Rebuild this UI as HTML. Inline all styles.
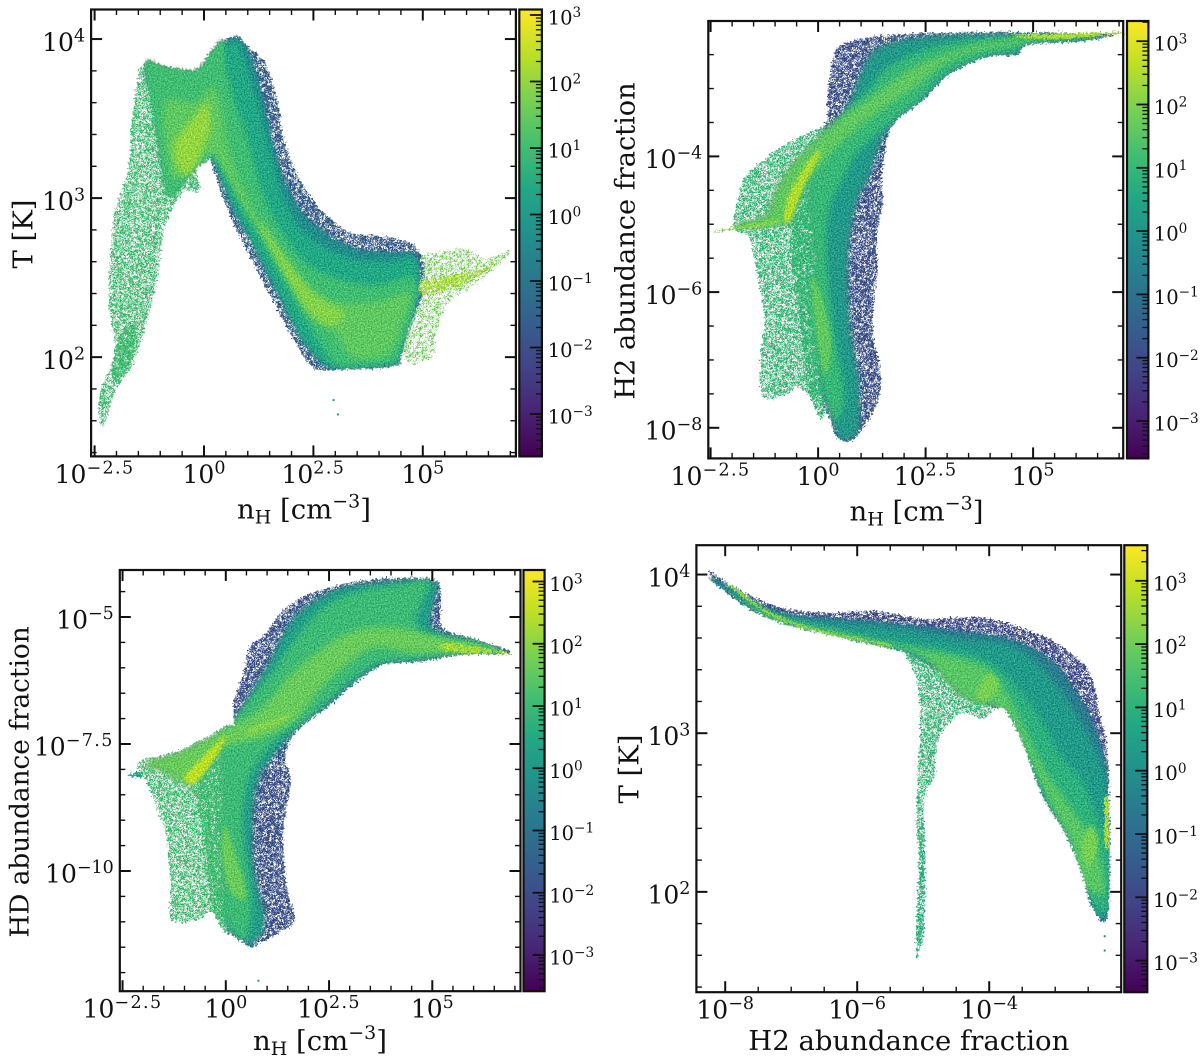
<!DOCTYPE html>
<html lang="en">
<head>
<meta charset="utf-8">
<title>Phase diagrams</title>
<style>
html,body{margin:0;padding:0;background:#fff;}
svg{display:block;}
text{font-family:"DejaVu Serif","Liberation Serif",serif;fill:#111;}
</style>
</head>
<body>
<svg id="figure" xmlns="http://www.w3.org/2000/svg" width="1200" height="1061" viewBox="0 0 1200 1061">
<defs>
<filter id="thin" x="-5%" y="-5%" width="110%" height="110%" color-interpolation-filters="sRGB">
<feTurbulence type="fractalNoise" baseFrequency="0.5" numOctaves="1" seed="9" result="n"/>
<feColorMatrix in="n" type="matrix" values="0 0 0 0 0  0 0 0 0 0  0 0 0 0 0  22 0 0 0 -11.3" result="m"/>
<feComposite in="SourceGraphic" in2="m" operator="in"/>
</filter>
<filter id="speckle" x="-5%" y="-5%" width="110%" height="110%" color-interpolation-filters="sRGB">
<feTurbulence type="fractalNoise" baseFrequency="0.5" numOctaves="1" seed="7" result="n"/>
<feColorMatrix in="n" type="matrix" values="0 0 0 0 0  0 0 0 0 0  0 0 0 0 0  22 0 0 0 -9.9" result="m"/>
<feComposite in="SourceGraphic" in2="m" operator="in"/>
</filter>
<filter id="edge" x="-5%" y="-5%" width="110%" height="110%" color-interpolation-filters="sRGB">
<feTurbulence type="fractalNoise" baseFrequency="0.5" numOctaves="1" seed="3" result="n"/>
<feColorMatrix in="n" type="matrix" values="0 0 0 0 0  0 0 0 0 0  0 0 0 0 0  22 0 0 0 -9.2" result="m"/>
<feComposite in="SourceGraphic" in2="m" operator="in"/>
</filter>
<filter id="soft" x="-10%" y="-10%" width="120%" height="120%">
<feGaussianBlur stdDeviation="3"/>
</filter>
<filter id="fine" x="-20%" y="-20%" width="140%" height="140%">
<feGaussianBlur stdDeviation="1.2"/>
</filter>
<filter id="rough" x="-3%" y="-3%" width="106%" height="106%" color-interpolation-filters="sRGB">
<feTurbulence type="fractalNoise" baseFrequency="0.5" numOctaves="1" seed="11" result="t"/>
<feDisplacementMap in="SourceGraphic" in2="t" scale="8" xChannelSelector="R" yChannelSelector="G" result="d"/>
<feTurbulence type="fractalNoise" baseFrequency="0.7" numOctaves="1" seed="5" result="g0"/>
<feColorMatrix in="g0" type="matrix" values="1 0 0 0 0  1 0 0 0 0  1 0 0 0 0  0 0 0 0 1" result="g"/>
<feComposite in="d" in2="g" operator="arithmetic" k1="0" k2="1" k3="0.5" k4="-0.25" result="a"/>
<feComposite in="a" in2="d" operator="in"/>
</filter>
</defs>
</svg>
<script>
// ---------- Panel 1: temperature vs density (log10 values) ----------
const tempDensityWing=[[-2.32,1.56],[-2.39,1.76],[-2.04,2.03],[-2.17,2.31],[-2.14,2.63],[-2.04,2.91],[-1.73,3.18],[-1.64,3.50],[-1.38,3.84],[-0.73,3.61],[-0.11,3.09],[-0.46,3.04],[-0.73,2.93],[-0.94,2.78],[-1.08,2.48],[-1.34,2.20],[-1.64,1.95],[-2.04,1.78]];
const tempDensityWingCore=[[-2.1,1.9],[-1.9,2.15],[-1.55,2.2],[-1.65,2.0],[-1.95,1.85]];
const tempDensityTailSparse=[[4.7,2.6],[5.3,2.66],[6.0,2.68],[6.4,2.62],[7,2.66],[6.2,2.46],[5.6,2.35],[5.3,2.15],[5.2,2.0],[4.6,1.98],[4.7,2.3]];
const tempDensityEdge=[[-1.3,3.84],[-0.9,3.81],[-0.2,3.79],[0.15,3.90],[0.41,3.98],[0.76,4.02],[1.02,3.95],[1.42,3.84],[1.68,3.61],[1.81,3.39],[2.07,3.18],[2.42,3.01],[2.86,2.88],[3.38,2.78],[4.08,2.76],[4.78,2.71],[5.0,2.6],[5.0,2.4],[4.7,2.2],[4.52,2.01],[4.34,1.94],[3.03,1.92],[2.51,1.93],[2.07,2.10],[1.55,2.37],[0.94,2.69],[0.50,2.95],[0.24,3.16],[0.10,3.26],[-0.2,3.20],[-0.55,3.08],[-0.81,3.04],[-0.99,3.29],[-1.16,3.61]];
const tempDensityMid=[[0.76,4.01],[1.1,3.88],[1.37,3.62],[1.6,3.33],[1.9,3.08],[2.3,2.9],[2.8,2.78],[3.5,2.68],[4.3,2.66],[4.85,2.64],[4.9,2.4],[4.6,2.15],[4.5,2.01],[4.3,1.95],[3.03,1.93],[2.65,1.98],[2.2,2.13],[1.7,2.4],[1.1,2.72],[0.65,2.95],[0.3,3.18],[0.1,3.26],[-0.2,3.2],[-0.55,3.08],[-0.81,3.04],[-0.99,3.29],[-1.16,3.61],[-1.3,3.83],[-0.2,3.78],[0.15,3.89],[0.41,3.97]];
const tempDensityTeal=[[0.76,3.98],[0.95,3.85],[1.2,3.62],[1.5,3.3],[1.75,3.05],[2.1,2.85],[2.6,2.72],[3.4,2.62],[4.2,2.6],[4.8,2.62],[4.9,2.4],[4.6,2.15],[4.5,2.01],[4.3,1.95],[3.03,1.93],[2.65,1.98],[2.2,2.13],[1.7,2.4],[1.1,2.72],[0.65,2.95],[0.3,3.18],[0.1,3.26],[-0.2,3.2],[-0.55,3.08],[-0.81,3.04],[-0.99,3.29],[-1.16,3.61],[-1.3,3.83],[-0.2,3.78],[0.15,3.89],[0.41,3.95]];
const tempDensityLeftDense=[[-1.34,3.86],[-0.9,3.83],[-0.2,3.81],[0.15,3.92],[0.45,3.98],[0.4,3.5],[0.2,3.28],[-0.2,3.18],[-0.55,3.06],[-0.85,3.02],[-1.04,3.29],[-1.21,3.61]];
const tempDensityGreen=[[-1.1,3.75],[-0.2,3.72],[0.1,3.85],[0.4,3.85],[0.7,3.6],[1.0,3.35],[1.3,3.05],[1.7,2.82],[2.3,2.6],[3.0,2.5],[3.9,2.45],[4.8,2.5],[4.8,2.3],[4.5,2.05],[4.3,1.97],[3.1,1.95],[2.75,2.05],[2.3,2.25],[1.8,2.5],[1.3,2.75],[0.8,3.0],[0.4,3.2],[0.1,3.28],[-0.2,3.22],[-0.6,3.1],[-0.8,3.1],[-0.95,3.35],[-1.05,3.6]];
const tempDensityLight=[[-0.9,3.6],[-0.2,3.6],[0.2,3.7],[0.4,3.55],[0.55,3.3],[1.0,3.0],[1.5,2.75],[2.2,2.5],[3.0,2.35],[4.0,2.35],[4.7,2.4],[4.5,2.2],[4.2,2.02],[3.4,2.0],[3.0,2.15],[2.5,2.25],[2.0,2.45],[1.5,2.7],[1.0,2.9],[0.5,3.15],[0.2,3.28],[-0.2,3.22],[-0.6,3.12],[-0.8,3.2]];
const tempDensityPeakBlob=[[-0.7,3.32],[-0.5,3.42],[-0.25,3.5],[0.05,3.6],[0.15,3.45],[-0.05,3.3],[-0.15,3.22],[-0.4,3.14],[-0.6,3.2]];
const tempDensityPeakRidge=[[1.3,2.85],[1.8,2.65],[2.5,2.4],[3.2,2.28],[2.9,2.2],[2.4,2.28],[1.9,2.5],[1.4,2.75]];
const tempDensityTailCore=[[5.0,2.48],[5.8,2.52],[6.4,2.56],[6.9,2.63],[6.2,2.5],[5.6,2.43],[5.0,2.4]];
const tempDensityStray=[[2.96,1.73],[3.06,1.64]];
const tempDensityLayers=[
 {name:'sparse-wing',logCount:1.0,mode:'speckle',outline:tempDensityWing},
 {name:'wing-core',logCount:1.0,mode:'edge',outline:tempDensityWingCore},
 {name:'sparse-tail',logCount:1.6,mode:'thin',outline:tempDensityTailSparse},
 {name:'edge-band',logCount:-1.7,mode:'edge',outline:tempDensityEdge},
 {name:'mid-band',logCount:-0.4,mode:'fine',outline:tempDensityMid},
 {name:'teal-band',logCount:0.4,mode:'soft',outline:tempDensityTeal},
 {name:'left-dense',logCount:1.0,mode:'fine',outline:tempDensityLeftDense},
 {name:'green-band',logCount:1.0,mode:'soft',outline:tempDensityGreen},
 {name:'light-band',logCount:1.4,mode:'soft',outline:tempDensityLight},
 {name:'peak-blob',logCount:2.0,mode:'soft',outline:tempDensityPeakBlob},
 {name:'peak-ridge',logCount:1.85,mode:'soft',outline:tempDensityPeakRidge},
 {name:'tail-core',logCount:2.2,mode:'edge',outline:tempDensityTailCore}
];

// ---------- Panel 2: H2 fraction vs density ----------
const h2DensitySparse=[[-1.79,-4.44],[-1.52,-4.19],[-1.25,-4.04],[-0.80,-3.84],[0,-3.59],[0.22,-3.69],[0.3,-5],[0.3,-7.5],[-0.45,-7.4],[-0.7,-7.5],[-1.16,-7.58],[-1.34,-7.43],[-1.34,-6.93],[-1.25,-6.43],[-1.43,-5.68],[-1.61,-5.19],[-1.96,-5.04]];
const h2DensityTransition=[[-0.5,-4.4],[0.2,-4],[0.2,-7.6],[-0.2,-7.5],[-0.4,-6.5],[-0.6,-5.5]];
const h2DensityEdge=[[0.22,-3.42],[0.22,-3.14],[0.31,-2.69],[0.45,-2.40],[0.98,-2.27],[1.96,-2.20],[3.39,-2.17],[5.8,-2.18],[6.92,-2.2],[6.16,-2.30],[4.91,-2.35],[4.64,-2.50],[4.02,-2.52],[3.48,-2.65],[2.95,-2.84],[2.41,-3.19],[1.88,-3.44],[1.65,-3.64],[1.56,-3.94],[1.47,-4.29],[1.5,-4.69],[1.35,-5.19],[1.38,-5.68],[1.29,-6.18],[1.29,-6.68],[1.45,-7.18],[1.38,-7.63],[0.98,-8.07],[0.71,-8.20],[0.45,-8.15],[0.3,-7.93],[0.1,-7.2],[0.1,-4]];
const h2DensityTeal=[[0.5,-3.55],[0.85,-3.0],[1.1,-2.6],[1.4,-2.4],[2.0,-2.27],[3.4,-2.19],[6,-2.2],[6.9,-2.2],[6.16,-2.3],[4.91,-2.35],[4.64,-2.5],[4.02,-2.52],[3.48,-2.65],[2.95,-2.84],[2.41,-3.19],[1.88,-3.44],[1.65,-3.64],[1.45,-3.8],[1.2,-4.3],[0.9,-4.7],[0.7,-5.5],[0.75,-6.5],[0.95,-7.3],[0.95,-8.0],[0.71,-8.18],[0.45,-8.13],[0.25,-7.7],[0.05,-7.2],[0.05,-5.5],[0.05,-4.3]];
const h2DensityGreen=[[0,-3.75],[0.6,-3.35],[1.2,-3.0],[1.6,-2.7],[2.4,-2.45],[3.4,-2.3],[5,-2.22],[6.5,-2.2],[6.2,-2.27],[4.9,-2.33],[4.6,-2.45],[4,-2.5],[3.4,-2.64],[2.9,-2.82],[2.4,-3.15],[1.85,-3.42],[1.4,-3.65],[0.9,-3.95],[0.6,-4.3],[0.25,-4.8],[0.2,-5.5],[0.35,-6.5],[0.6,-7.5],[0.4,-7.9],[0.1,-7.4],[-0.1,-6.5],[-0.1,-5.3],[-0.25,-4.4]];
const h2DensityLight=[[-1.96,-5.0],[-1.2,-4.85],[-1,-4.5],[-0.6,-4.1],[-0.1,-3.8],[0.5,-3.45],[1.3,-3.1],[2.2,-2.7],[3,-2.5],[4,-2.32],[5.5,-2.25],[6.6,-2.2],[5.5,-2.27],[4,-2.4],[3,-2.6],[2.3,-2.95],[1.5,-3.3],[0.6,-3.75],[0.1,-4.1],[-0.3,-4.4],[-0.6,-4.9],[-0.85,-5.02],[-1.3,-5.04],[-1.9,-5.07]];
const h2DensityLowRidge=[[-0.15,-5.8],[0.05,-6.0],[0.3,-6.7],[0.2,-7.2],[0.05,-7],[-0.1,-6.3]];
const h2DensityPeak=[[-0.8,-4.95],[-0.7,-4.6],[-0.45,-4.3],[-0.2,-4.05],[0.05,-3.9],[-0.05,-4.1],[-0.3,-4.4],[-0.55,-4.8],[-0.65,-4.95]];
const h2DensityTopTail=[[4.6,-2.22],[6.9,-2.17],[6.9,-2.2],[5.5,-2.27]];
const h2DensityStrip=[[-2.41,-5.11],[-1.0,-4.93],[-1.0,-5.0],[-1.9,-5.07]];
const h2DensityLayers=[
 {name:'sparse-left',logCount:1.0,mode:'speckle',outline:h2DensitySparse},
 {name:'transition',logCount:1.0,mode:'edge',outline:h2DensityTransition},
 {name:'edge-band',logCount:-1.9,mode:'edge',outline:h2DensityEdge},
 {name:'teal-band',logCount:0.1,mode:'soft',outline:h2DensityTeal},
 {name:'green-band',logCount:1.0,mode:'soft',outline:h2DensityGreen},
 {name:'light-band',logCount:1.6,mode:'soft',outline:h2DensityLight},
 {name:'low-ridge',logCount:1.6,mode:'fine',outline:h2DensityLowRidge},
 {name:'peak',logCount:2.5,mode:'fine',outline:h2DensityPeak},
 {name:'top-tail',logCount:2.4,mode:'solid',outline:h2DensityTopTail},
 {name:'strip',logCount:2.0,mode:'solid',outline:h2DensityStrip}
];

// ---------- Panel 3: HD fraction vs density ----------
const hdDensitySparse=[[-2.1,-7.85],[-1.2,-7.65],[-0.6,-7.42],[0.2,-7.15],[0.3,-8],[0.2,-10.5],[-0.19,-10.95],[-0.37,-10.8],[-0.65,-10.95],[-1.30,-10.98],[-1.34,-10.35],[-1.39,-9.61],[-1.57,-8.95],[-1.94,-8.21]];
const hdDensityTransition=[[-0.7,-8.3],[0.2,-7.5],[0.2,-11],[-0.3,-10.8],[-0.5,-9.5],[-0.6,-9]];
const hdDensityStub=[[-2.36,-8.11],[-2.04,-8.05],[-2.04,-8.15],[-2.36,-8.14]];
const hdDensityEdge=[[0.2,-7.15],[0.2,-6.61],[0.42,-6.15],[0.56,-5.61],[0.93,-5.35],[1.3,-4.95],[1.85,-4.61],[2.69,-4.38],[3.43,-4.27],[5,-4.25],[5.2,-4.6],[5.25,-5.2],[5.9,-5.4],[6.9,-5.7],[5.65,-5.75],[4.72,-5.88],[3.8,-5.95],[3.06,-6.35],[2.5,-6.75],[1.94,-7.08],[1.57,-7.41],[1.44,-7.81],[1.57,-8.21],[1.39,-9.28],[1.48,-10.35],[1.67,-10.95],[1.3,-11.21],[0.83,-11.41],[0.65,-11.51],[0.42,-11.41],[0.09,-11.21],[0.05,-10.81],[0.1,-9.5],[0.1,-8]];
const hdDensityTeal=[[0.3,-7.1],[0.45,-6.75],[0.7,-6.35],[1,-5.95],[1.3,-5.45],[1.7,-4.95],[2.4,-4.55],[3.2,-4.35],[5,-4.27],[5.05,-4.7],[5,-5.2],[5.9,-5.42],[6.9,-5.71],[5.65,-5.74],[4.72,-5.87],[3.8,-5.94],[3.06,-6.34],[2.5,-6.74],[1.94,-7.07],[1.5,-7.41],[1.1,-7.8],[0.8,-8.2],[0.65,-9],[0.7,-10],[0.95,-11],[0.65,-11.45],[0.42,-11.38],[0.09,-11.2],[0,-10.8],[0.05,-9.5],[0.05,-8]];
const hdDensityGreen=[[0,-7.2],[0.6,-6.6],[1.2,-6],[1.7,-5.4],[2.4,-4.8],[3.2,-4.5],[4.3,-4.35],[4.9,-4.3],[4.7,-4.8],[4.6,-5.1],[5,-5.4],[6,-5.5],[6.8,-5.72],[5.5,-5.72],[4.6,-5.83],[3.7,-5.9],[3,-6.25],[2.4,-6.7],[1.9,-7.05],[1.3,-7.35],[0.8,-7.8],[0.5,-8.3],[0.4,-9.2],[0.6,-10.5],[0.5,-11.3],[0.2,-11.2],[-0.05,-10.8],[-0.1,-9.5],[-0.1,-8.2],[-0.2,-7.6]];
const hdDensityLight=[[-2.0,-7.88],[-1.2,-7.68],[-0.6,-7.45],[0,-7.2],[0.8,-6.85],[1.5,-6.2],[2.2,-5.7],[3,-5.3],[4,-5.2],[5,-5.35],[6.5,-5.62],[5.4,-5.7],[4.5,-5.7],[3.6,-5.6],[2.9,-5.95],[2.3,-6.4],[1.7,-7],[1,-7.35],[0.2,-7.5],[-0.3,-7.7],[-0.7,-8.2],[-1.1,-8.25],[-1.5,-8.05]];
const hdDensityLowRidge=[[0,-9.1],[0.2,-9.6],[0.5,-10.5],[0.1,-10.4],[-0.1,-9.6]];
const hdDensityPeak=[[-1.0,-8.15],[-0.6,-7.8],[-0.3,-7.55],[0,-7.35],[-0.2,-7.7],[-0.5,-8.05],[-0.8,-8.3]];
const hdDensityTail=[[5.3,-5.5],[6.5,-5.65],[6.9,-5.72],[6,-5.72],[5.3,-5.65]];
const hdDensityRidge=[[0.6,-7.3],[1.5,-7.0],[1.5,-6.93],[0.6,-7.2]];
const hdDensityStray=[[0.79,-12.16]];
const hdDensityLayers=[
 {name:'sparse-left',logCount:1.1,mode:'speckle',outline:hdDensitySparse},
 {name:'transition',logCount:1.1,mode:'edge',outline:hdDensityTransition},
 {name:'left-stub',logCount:0.5,mode:'solid',outline:hdDensityStub},
 {name:'edge-band',logCount:-1.9,mode:'edge',outline:hdDensityEdge},
 {name:'teal-band',logCount:0.2,mode:'soft',outline:hdDensityTeal},
 {name:'green-band',logCount:1.0,mode:'soft',outline:hdDensityGreen},
 {name:'light-band',logCount:1.6,mode:'soft',outline:hdDensityLight},
 {name:'low-ridge',logCount:1.6,mode:'fine',outline:hdDensityLowRidge},
 {name:'peak',logCount:2.5,mode:'fine',outline:hdDensityPeak},
 {name:'tail',logCount:2.4,mode:'edge',outline:hdDensityTail},
 {name:'ridge',logCount:2.0,mode:'fine',outline:hdDensityRidge}
];

// ---------- Panel 4: temperature vs H2 fraction ----------
const tempH2Sparse=[[-5.21,3.5],[-4.4,3.4],[-3.76,3.2],[-3.94,3.15],[-4.11,3.09],[-4.4,3.13],[-4.69,3.02],[-4.81,2.9],[-4.83,2.73],[-4.98,2.6],[-5.0,2.3],[-5.08,2.3],[-5.1,2.5],[-5.07,2.83],[-5.04,3.09],[-5.1,3.34]];
const tempH2Spike=[[-5.04,2.4],[-4.98,2.4],[-4.98,1.8],[-5.08,1.6],[-5.1,1.55],[-5.1,1.8]];
const tempH2Edge=[[-8.23,4.02],[-7.94,3.94],[-7.47,3.84],[-7.01,3.78],[-6.43,3.76],[-5.73,3.77],[-4.98,3.72],[-4.11,3.73],[-3.36,3.64],[-2.95,3.56],[-2.49,3.39],[-2.31,3.09],[-2.2,2.81],[-2.2,1.88],[-2.43,1.90],[-2.6,2.13],[-2.83,2.36],[-3.18,2.6],[-3.47,2.92],[-3.76,3.15],[-3.94,3.16],[-4.4,3.3],[-5.21,3.5],[-5.5,3.54],[-6.2,3.6],[-6.78,3.66],[-7.3,3.72],[-7.7,3.8],[-8.11,3.93],[-8.2,3.99]];
const tempH2Mid=[[-8.2,3.98],[-7.5,3.82],[-7,3.75],[-6.43,3.73],[-5.5,3.7],[-4.5,3.65],[-3.7,3.6],[-3.1,3.48],[-2.7,3.28],[-2.4,3.05],[-2.25,2.85],[-2.2,2.7],[-2.2,1.88],[-2.43,1.9],[-2.6,2.13],[-2.83,2.36],[-3.18,2.6],[-3.47,2.92],[-3.76,3.15],[-4.4,3.32],[-5.21,3.5],[-6.2,3.6],[-7.3,3.72],[-8.11,3.93]];
const tempH2Teal=[[-8.2,3.98],[-7.5,3.8],[-7,3.73],[-6.43,3.7],[-5.5,3.67],[-4.5,3.6],[-3.7,3.56],[-3.2,3.42],[-2.8,3.2],[-2.45,2.95],[-2.25,2.75],[-2.2,2.6],[-2.2,1.88],[-2.43,1.9],[-2.6,2.13],[-2.83,2.36],[-3.18,2.6],[-3.47,2.92],[-3.76,3.15],[-4.4,3.32],[-5.21,3.5],[-6.2,3.6],[-7.3,3.72],[-8.11,3.93]];
const tempH2Green=[[-8,3.9],[-7.3,3.75],[-6.4,3.65],[-5.5,3.58],[-4.5,3.52],[-3.9,3.42],[-3.4,3.2],[-2.9,2.85],[-2.6,2.7],[-2.3,2.4],[-2.2,2.3],[-2.2,1.9],[-2.43,1.92],[-2.6,2.15],[-2.83,2.38],[-3.18,2.62],[-3.47,2.94],[-3.76,3.17],[-4.4,3.34],[-5.21,3.51],[-6.2,3.61],[-7.3,3.73]];
const tempH2Light=[[-7.9,3.92],[-7.3,3.75],[-6.2,3.63],[-5.2,3.54],[-4.4,3.47],[-3.95,3.38],[-3.6,3.15],[-3.2,2.8],[-2.8,2.55],[-2.4,2.3],[-2.25,2.0],[-2.6,2.05],[-2.75,2.3],[-3,2.5],[-3.4,2.85],[-3.7,3.1],[-3.95,3.17],[-4.3,3.2],[-4.6,3.3],[-5.1,3.5],[-6.2,3.6],[-7.3,3.72]];
const tempH2StripeRight=[[-2.25,2.58],[-2.2,2.58],[-2.2,2.3],[-2.25,2.3]];
const tempH2Blob=[[-4.2,3.25],[-4,3.38],[-3.85,3.3],[-4.05,3.2]];
const tempH2LowBlob=[[-2.6,2.3],[-2.45,2.42],[-2.35,2.3],[-2.5,2.15]];
const tempH2ThinBand=[[-7.9,3.93],[-7.3,3.76],[-6.66,3.66],[-5.97,3.6],[-5.5,3.56],[-5.5,3.545],[-5.97,3.585],[-6.66,3.645],[-7.3,3.74],[-7.9,3.91]];
const tempH2Stray=[[-2.25,1.72],[-2.25,1.63]];
const tempH2Layers=[
 {name:'sparse-mid',logCount:1.2,mode:'speckle',outline:tempH2Sparse},
 {name:'spike',logCount:1.0,mode:'edge',outline:tempH2Spike},
 {name:'edge-band',logCount:-1.9,mode:'edge',outline:tempH2Edge},
 {name:'mid-band',logCount:-0.6,mode:'fine',outline:tempH2Mid},
 {name:'teal-band',logCount:0.3,mode:'soft',outline:tempH2Teal},
 {name:'green-band',logCount:1.0,mode:'soft',outline:tempH2Green},
 {name:'light-band',logCount:1.7,mode:'soft',outline:tempH2Light},
 {name:'right-stripe',logCount:2.8,mode:'solid',outline:tempH2StripeRight},
 {name:'blob',logCount:2.1,mode:'fine',outline:tempH2Blob},
 {name:'low-blob',logCount:2.1,mode:'fine',outline:tempH2LowBlob},
 {name:'thin-band',logCount:2.3,mode:'solid',outline:tempH2ThinBand}
];

// ---------- Tick labels ----------
const densityTicks=[-2.5,0,2.5,5];
const densityTickLabels=['\u22122.5','0','2.5','5'];
const tempTicks=[2,3,4];
const tempTickLabels=['2','3','4'];
const h2Ticks=[-8,-6,-4];
const h2TickLabels=['\u22128','\u22126','\u22124'];
const hdTicks=[-10,-7.5,-5];
const hdTickLabels=['\u221210','\u22127.5','\u22125'];
const colorbarDecades=[-3,-2,-1,0,1,2,3];
const colorbarLabels=['\u22123','\u22122','\u22121','0','1','2','3'];
const viridisColors=['#440154','#482475','#414487','#355f8d','#2a788e','#21918c','#22a884','#44bf70','#7ad151','#bddf26','#fde725'];

const NS='http://www.w3.org/2000/svg';
const root=document.getElementById('figure');

function make(tag,parent,attrs){
  const el=document.createElementNS(NS,tag);
  for(const k in attrs)el.setAttribute(k,attrs[k]);
  parent.appendChild(el);
  return el;
}
function viridis(t){
  t=Math.max(0,Math.min(1,t));
  const p=t*(viridisColors.length-1),i=Math.min(Math.floor(p),viridisColors.length-2),f=p-i;
  const a=viridisColors[i],b=viridisColors[i+1];
  let out='rgb(';
  for(let c=0;c<3;c++){
    const va=parseInt(a.substr(1+c*2,2),16),vb=parseInt(b.substr(1+c*2,2),16);
    out+=Math.round(va+(vb-va)*f)+(c<2?',':')');
  }
  return out;
}
function smoothPath(pts){
  const n=pts.length;
  let d='M'+pts[0][0].toFixed(1)+' '+pts[0][1].toFixed(1);
  for(let i=0;i<n;i++){
    const p0=pts[(i-1+n)%n],p1=pts[i],p2=pts[(i+1)%n],p3=pts[(i+2)%n];
    const c1x=p1[0]+(p2[0]-p0[0])/6,c1y=p1[1]+(p2[1]-p0[1])/6;
    const c2x=p2[0]-(p3[0]-p1[0])/6,c2y=p2[1]-(p3[1]-p1[1])/6;
    d+='C'+c1x.toFixed(1)+' '+c1y.toFixed(1)+' '+c2x.toFixed(1)+' '+c2y.toFixed(1)+' '+p2[0].toFixed(1)+' '+p2[1].toFixed(1);
  }
  return d+'Z';
}
function powerLabel(parent,x,y,anchor,size,exp,name){
  const t=make('text',parent,{x:x,y:y,'text-anchor':anchor,'font-size':size});
  
  
  t.appendChild(document.createTextNode('10'));
  const s=make('tspan',t,{dy:-size*0.38,'font-size':size*0.7,'letter-spacing':exp.indexOf('.')>=0?1.4:0});
  s.textContent=exp;
  return t;
}

function drawPanel(cfg){
  const g=make('g',root,{});
  
  
  const sx=v=>cfg.xAnchor[1]+(v-cfg.xAnchor[0])*cfg.xScale;
  const sy=v=>cfg.yAnchor[1]-(v-cfg.yAnchor[0])*cfg.yScale;
  const f=cfg.frame;
  const defs=root.querySelector('defs');

  // density regions
  const marks=make('g',g,{filter:'url(#rough)'});
  
  
  const cmin=cfg.cbar.min,cmax=cfg.cbar.max;
  const clipId='clip-'+cfg.name;
  const clip=make('clipPath',defs,{id:clipId});
  const shape=layer=>smoothPath(layer.outline.map(p=>[sx(p[0]),sy(p[1])]));
  cfg.layers.forEach(layer=>{
    if(layer.mode!=='soft')make('path',clip,{d:shape(layer)});
  });
  cfg.layers.forEach(layer=>{
    const holder=layer.mode==='soft'?make('g',marks,{'clip-path':'url(#'+clipId+')'}):marks;
    const poly=make('path',holder,{d:shape(layer),fill:viridis((layer.logCount-cmin)/(cmax-cmin))});
    if(layer.mode!=='solid')poly.setAttribute('filter','url(#'+layer.mode+')');
    
    
  });
  (cfg.stray||[]).forEach(p=>{
    const dot=make('rect',g,{x:sx(p[0])-1,y:sy(p[1])-1,width:2,height:2,fill:viridis((0-cmin)/(cmax-cmin))});
    
    
  });

  // ticks
  const ticks=make('g',g,{stroke:'#111',fill:'none'});
  
  
  const line=(x1,y1,x2,y2,w)=>make('line',ticks,{x1:x1,y1:y1,x2:x2,y2:y2,'stroke-width':w});
  const inv=(px,a,s,sign)=>a[0]+sign*(px-a[1])/s;
  const xlo=inv(f.left,cfg.xAnchor,cfg.xScale,1),xhi=inv(f.right,cfg.xAnchor,cfg.xScale,1);
  const ylo=inv(f.bottom,cfg.yAnchor,cfg.yScale,-1),yhi=inv(f.top,cfg.yAnchor,cfg.yScale,-1);
  for(let k=Math.ceil((xlo-cfg.xAnchor[0])/cfg.xMinor);cfg.xAnchor[0]+k*cfg.xMinor<=xhi;k++){
    const v=cfg.xAnchor[0]+k*cfg.xMinor,px=sx(v);
    const major=cfg.xTicks.some(m=>Math.abs(m-v)<1e-6);
    const len=major?11:5.5,w=major?2:1.4;
    line(px,f.bottom,px,f.bottom-len,w);
    line(px,f.top,px,f.top+len,w);
  }
  for(let k=Math.ceil((ylo-cfg.yAnchor[0])/cfg.yMinor);cfg.yAnchor[0]+k*cfg.yMinor<=yhi;k++){
    const v=cfg.yAnchor[0]+k*cfg.yMinor,py=sy(v);
    const major=cfg.yTicks.some(m=>Math.abs(m-v)<1e-6);
    const len=major?11:5.5,w=major?2:1.4;
    line(f.left,py,f.left+len,py,w);
    line(f.right,py,f.right-len,py,w);
  }
  const frame=make('rect',g,{x:f.left,y:f.top,width:f.right-f.left,height:f.bottom-f.top,fill:'none',stroke:'#111','stroke-width':2.2});
  
  

  // tick labels
  cfg.xTicks.forEach((v,i)=>powerLabel(g,sx(v),f.bottom+26.5,'middle',25,cfg.xLabels[i],'x-tick-label'));
  cfg.yTicks.forEach((v,i)=>powerLabel(g,f.left-cfg.yLabelGap,sy(v)+11.7,'end',25,cfg.yLabels[i],'y-tick-label'));

  // axis titles
  const xt=make('text',g,{x:cfg.xTitleX,y:f.bottom+cfg.xTitleDy,'text-anchor':'middle','font-size':27.5});
  
  
  if(cfg.xTitle==='nH'){
    xt.appendChild(document.createTextNode('n'));
    const sub=make('tspan',xt,{dy:5,'font-size':19});sub.textContent='H';
    const mid=make('tspan',xt,{dy:-5});mid.textContent=' [cm';
    const sup=make('tspan',xt,{dy:-11,'font-size':19});sup.textContent='\u22123';
    const end=make('tspan',xt,{dy:11});end.textContent=']';
  }else{
    xt.textContent=cfg.xTitle;
  }
  const yt=make('text',g,{x:0,y:0,'text-anchor':'middle','font-size':cfg.yTitleSize,transform:'translate('+cfg.yTitleX+','+cfg.yTitleY+') rotate(-90)'});
  
  
  yt.textContent=cfg.yTitle;

  // colorbar
  const c=cfg.cbar;
  const cg=make('g',g,{});
  
  
  const cy=v=>c.anchorY-(v-3)*c.perDecade;
  const gid='grad-'+cfg.name;
  const grad=make('linearGradient',defs,{id:gid,x1:0,y1:1,x2:0,y2:0});
  viridisColors.forEach((col,i)=>make('stop',grad,{offset:i/(viridisColors.length-1),'stop-color':col}));
  const bar=make('rect',cg,{x:c.left,y:f.top,width:c.right-c.left,height:f.bottom-f.top,fill:'url(#'+gid+')',stroke:'#111','stroke-width':2.2});
  
  
  colorbarDecades.forEach((d,i)=>{
    const t=make('line',cg,{x1:c.right,x2:c.right-12,y1:cy(d),y2:cy(d),stroke:'#111','stroke-width':1.8});
    
    
    for(let m=2;m<=9;m++){
      const v=d-1+Math.log10(m);
      if(v<cmin)continue;
      const mt=make('line',cg,{x1:c.right,x2:c.right-6,y1:cy(v),y2:cy(v),stroke:'#111','stroke-width':1.3});
      
      
    }
    powerLabel(cg,c.labelX,cy(d)+9.5,'start',19.5,colorbarLabels[i],'colorbar-tick-label');
  });
  for(let m=2;m<=9;m++){
    const v=3+Math.log10(m);
    if(v>cmax)continue;
    const mt=make('line',cg,{x1:c.right,x2:c.right-6,y1:cy(v),y2:cy(v),stroke:'#111','stroke-width':1.3});
    
    
  }
}

function withRange(frame,o){
  o.min=3-(frame.bottom-o.anchorY)/o.perDecade;
  o.max=3+(o.anchorY-frame.top)/o.perDecade;
  return o;
}

const frame1={left:91.1,right:515.9,top:9.5,bottom:456.4};
drawPanel({name:'temperature-density-panel',frame:frame1,layers:tempDensityLayers,stray:tempDensityStray,
  xAnchor:[0,204],xScale:43.76,yAnchor:[3,198.1],yScale:159.05,xMinor:0.5,yMinor:0.2,
  xTicks:densityTicks,xLabels:densityTickLabels,yTicks:tempTicks,yLabels:tempTickLabels,
  xTitle:'nH',xTitleX:304,xTitleDy:62,yTitle:'T [K]',yTitleSize:27.5,yTitleX:32.5,yTitleY:234,yLabelGap:6,
  cbar:withRange(frame1,{left:519.3,right:541.9,anchorY:15,perDecade:66.5,labelX:547.7})});

const frame2={left:708.3,right:1123.2,top:21,bottom:458.4};
drawPanel({name:'h2-density-panel',frame:frame2,layers:h2DensityLayers,
  xAnchor:[0,818.1],xScale:43.0,yAnchor:[-6,292.1],yScale:67.85,xMinor:0.5,yMinor:0.5,
  xTicks:densityTicks,xLabels:densityTickLabels,yTicks:h2Ticks,yLabels:h2TickLabels,
  xTitle:'nH',xTitleX:916.5,xTitleDy:62,yTitle:'H2 abundance fraction',yTitleSize:27.2,yTitleX:634.4,yTitleY:241,yLabelGap:6,
  cbar:withRange(frame2,{left:1127,right:1148.4,anchorY:41.2,perDecade:63.3,labelX:1153.8})});

const frame3={left:119.8,right:520.5,top:570,bottom:991.2};
drawPanel({name:'hd-density-panel',frame:frame3,layers:hdDensityLayers,stray:hdDensityStray,
  xAnchor:[0,225.8],xScale:41.3,yAnchor:[-7.5,744],yScale:50.8,xMinor:0.5,yMinor:0.5,
  xTicks:densityTicks,xLabels:densityTickLabels,yTicks:hdTicks,yLabels:hdTickLabels,
  xTitle:'nH',xTitleX:320,xTitleDy:59,yTitle:'HD abundance fraction',yTitleSize:26.3,yTitleX:28.7,yTitleY:782,yLabelGap:6,
  cbar:withRange(frame3,{left:523.5,right:544.6,anchorY:581.5,perDecade:62.25,labelX:549.2})});

const frame4={left:696.4,right:1121.2,top:545.2,bottom:992.2};
drawPanel({name:'temperature-h2-panel',frame:frame4,layers:tempH2Layers,stray:tempH2Stray,
  xAnchor:[-6,857.2],xScale:66.0,yAnchor:[3,733.2],yScale:158.65,xMinor:0.5,yMinor:0.2,
  xTicks:h2Ticks,xLabels:h2TickLabels,yTicks:tempTicks,yLabels:tempTickLabels,
  xTitle:'H2 abundance fraction',xTitleX:908.8,xTitleDy:58,yTitle:'T [K]',yTitleSize:27.5,yTitleX:638.3,yTitleY:769,yLabelGap:6,
  cbar:withRange(frame4,{left:1124.3,right:1147.3,anchorY:580.8,perDecade:63.3,labelX:1153})});
</script>
</body>
</html>
